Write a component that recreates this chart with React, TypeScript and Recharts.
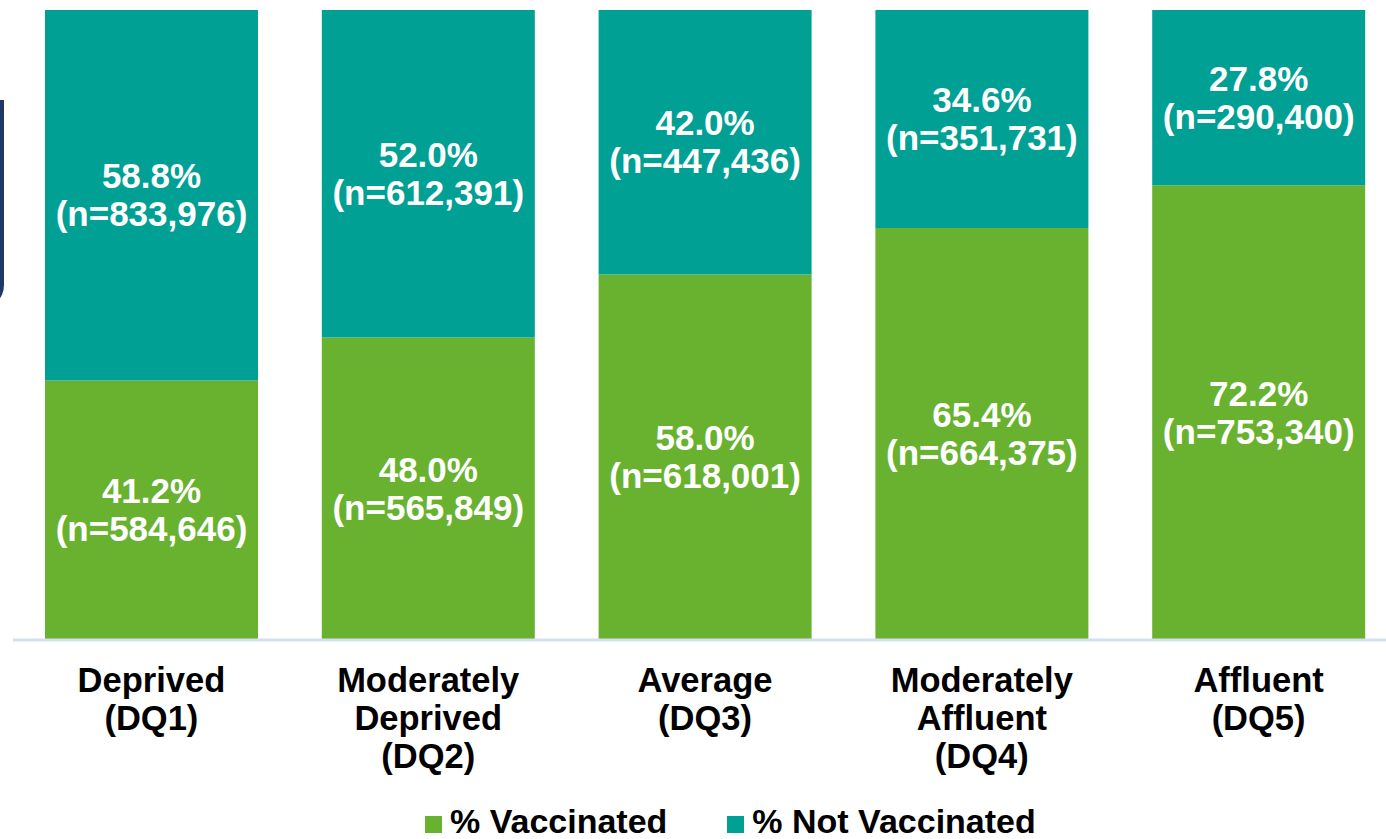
import React from 'react';
import { BarChart, Bar, XAxis, YAxis, LabelList } from 'recharts';

const categories = [
  'Deprived\n(DQ1)',
  'Moderately\nDeprived\n(DQ2)',
  'Average\n(DQ3)',
  'Moderately\nAffluent\n(DQ4)',
  'Affluent\n(DQ5)',
];
const vaccinatedPct = [41.2, 48.0, 58.0, 65.4, 72.2];
const notVaccinatedPct = [58.8, 52.0, 42.0, 34.6, 27.8];
const vaccinatedN = ['584,646', '565,849', '618,001', '664,375', '753,340'];
const notVaccinatedN = ['833,976', '612,391', '447,436', '351,731', '290,400'];

const GREEN = '#69B22F';
const TEAL = '#00A095';
const FONT = '"Liberation Sans", Arial, sans-serif';

const data = categories.map((name, i) => ({
  name,
  vacc: vaccinatedPct[i],
  notVacc: notVaccinatedPct[i],
  vaccN: vaccinatedN[i],
  notVaccN: notVaccinatedN[i],
}));

const makeLabel = (nKey: 'vaccN' | 'notVaccN') => (props: any) => {
  const { x, y, width, height, index, value } = props;
  const cx = x + width / 2;
  const cy = y + height / 2;
  return (
    <text textAnchor="middle" fill="#fff" fontFamily={FONT} fontWeight="bold" fontSize={35}>
      <tspan x={cx} y={cy - 7}>{value.toFixed(1)}%</tspan>
      <tspan x={cx} y={cy + 31}>(n={data[index][nKey]})</tspan>
    </text>
  );
};

function CategoryTick(props: any) {
  const { x, y, payload } = props;
  const lines = String(payload.value).split('\n');
  return (
    <text textAnchor="middle" fill="#000" fontFamily={FONT} fontWeight="bold" fontSize={34.5}>
      {lines.map((l, i) => (
        <tspan key={i} x={x} y={y + 52 + i * 38}>{l}</tspan>
      ))}
    </text>
  );
}

export default function App() {
  return (
    <div style={{ position: 'absolute', left: 0, top: 0, width: 1386, height: 839, overflow: 'hidden', background: '#fff' }}>
      <div
        style={{
          position: 'absolute',
          left: -200,
          top: 100,
          width: 200,
          height: 205,
          borderRight: '4px solid #1F3864',
          borderBottom: '4px solid #1F3864',
          borderBottomRightRadius: 24,
        }}
      />
      <BarChart
        width={1397}
        height={839}
        data={data}
        margin={{ top: 10, right: 0, left: 13, bottom: 0 }}
        barSize={213}
      >
        <YAxis hide domain={[0, 100]} />
        <XAxis
          dataKey="name"
          height={199}
          tickLine={false}
          tickSize={0}
          tickMargin={0}
          axisLine={{ stroke: '#D6DFEF', strokeWidth: 3 }}
          tick={<CategoryTick />}
          interval={0}
        />
        <Bar dataKey="vacc" stackId="a" fill={GREEN} isAnimationActive={false}>
          <LabelList dataKey="vacc" content={makeLabel('vaccN')} />
        </Bar>
        <Bar dataKey="notVacc" stackId="a" fill={TEAL} isAnimationActive={false}>
          <LabelList dataKey="notVacc" content={makeLabel('notVaccN')} />
        </Bar>
      </BarChart>
      <div
        style={{
          position: 'absolute',
          left: 425,
          top: 805,
          display: 'flex',
          alignItems: 'center',
          fontFamily: FONT,
          fontWeight: 'bold',
          fontSize: 34,
          lineHeight: '33px',
          color: '#000',
          whiteSpace: 'nowrap',
        }}
      >
        <span style={{ width: 17, height: 17, background: GREEN, display: 'inline-block', marginRight: 8, marginTop: 6 }} />
        <span style={{ marginRight: 60 }}>% Vaccinated</span>
        <span style={{ width: 17, height: 17, background: TEAL, display: 'inline-block', marginRight: 8, marginTop: 6 }} />
        <span>% Not Vaccinated</span>
      </div>
    </div>
  );
}
